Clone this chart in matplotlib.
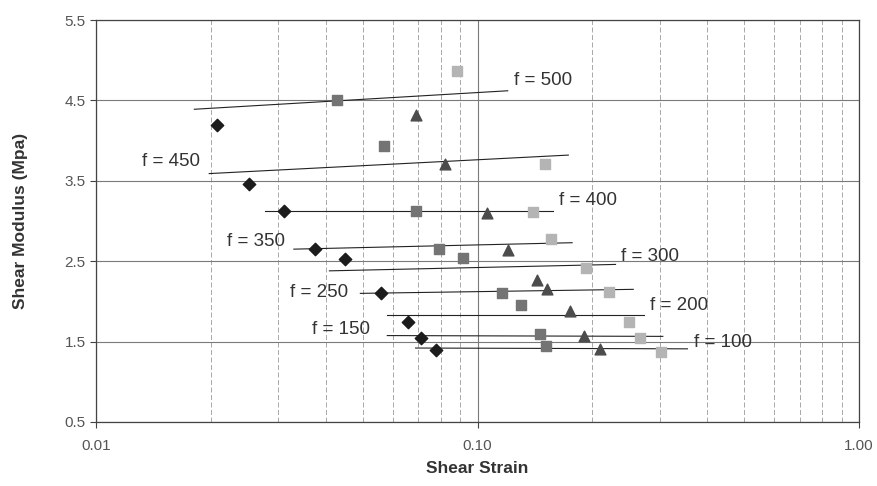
import matplotlib
matplotlib.use("Agg")
import matplotlib.pyplot as plt
from matplotlib.ticker import FixedLocator, NullFormatter, FixedFormatter
import numpy as np

plt.rcParams['font.family'] = ['Liberation Sans', 'DejaVu Sans']

# ---- data ----
freq_labels = ["f = 500", "f = 450", "f = 400", "f = 350", "f = 300",
               "f = 250", "f = 200", "f = 150", "f = 100"]

diamond_strain = [0.0208, 0.0252, 0.0311, 0.0376, 0.0450, 0.0560, 0.0659, 0.0713, 0.0780]
diamond_G      = [4.20, 3.46, 3.12, 2.65, 2.53, 2.10, 1.74, 1.54, 1.39]

dsq_strain = [0.0429, 0.0567, 0.0688, 0.0792, 0.0915, 0.116, 0.130, 0.146, 0.151]
dsq_G      = [4.50, 3.93, 3.12, 2.65, 2.54, 2.10, 1.95, 1.60, 1.44]

tri_strain = [0.0688, 0.0821, 0.106, 0.120, 0.143, 0.152, 0.175, 0.190, 0.210]
tri_G      = [4.32, 3.71, 3.10, 2.64, 2.27, 2.16, 1.88, 1.57, 1.41]

lsq_strain = [0.0881, 0.150, 0.140, 0.156, 0.193, 0.221, 0.249, 0.266, 0.303]
lsq_G      = [4.86, 3.71, 3.11, 2.77, 2.42, 2.12, 1.74, 1.54, 1.37]

# trend lines per frequency (start/end strain, start/end modulus)
line_x0 = [0.0181, 0.0198, 0.0278, 0.0330, 0.0409, 0.0493, 0.0580, 0.0580, 0.0688]
line_x1 = [0.120, 0.173, 0.158, 0.177, 0.230, 0.256, 0.273, 0.306, 0.355]
line_y0 = [4.39, 3.59, 3.12, 2.65, 2.38, 2.10, 1.835, 1.575, 1.42]
line_y1 = [4.62, 3.82, 3.12, 2.73, 2.46, 2.15, 1.835, 1.565, 1.41]

# label anchors (left edge, vertical centre) in data units
label_x = [0.125, 0.01318, 0.1635, 0.0220, 0.2383, 0.0322, 0.2833, 0.0368, 0.370]
label_y = [4.75, 3.735, 3.258, 2.739, 2.553, 2.116, 1.951, 1.652, 1.486]

x_ticks = [0.01, 0.1, 1.0]
x_tick_labels = ["0.01", "0.10", "1.00"]
y_ticks = [0.5, 1.5, 2.5, 3.5, 4.5, 5.5]

# ---- figure ----
fig = plt.figure(figsize=(8.77, 4.86), dpi=100)
ax = fig.add_axes([0.1095, 0.1317, 0.87, 0.8271])
ax.set_xscale('log')
ax.set_xlim(0.01, 1.0)
ax.set_ylim(0.5, 5.5)

# grid
ax.xaxis.set_major_locator(FixedLocator(x_ticks))
ax.xaxis.set_major_formatter(FixedFormatter(x_tick_labels))
minors = [m * d for d in (0.01, 0.1) for m in range(2, 10)]
ax.xaxis.set_minor_locator(FixedLocator(minors))
ax.xaxis.set_minor_formatter(NullFormatter())
ax.set_yticks(y_ticks)
ax.set_yticklabels([f"{v:.1f}" for v in y_ticks])

ax.grid(True, which='major', axis='both', color='#7a7a7a', lw=0.8, ls='-')
ax.grid(True, which='minor', axis='x', color='#9a9a9a', lw=0.6, ls=(0, (6, 3)))
ax.set_axisbelow(True)

for s in ax.spines.values():
    s.set_color('#444444')
    s.set_linewidth(0.9)

ax.tick_params(axis='both', which='major', direction='out', length=4,
               color='#444444', labelsize=11, labelcolor='#555555')
ax.tick_params(axis='x', which='minor', length=0)
ax.tick_params(axis='x', pad=8)

# trend lines
for x0, x1, y0, y1 in zip(line_x0, line_x1, line_y0, line_y1):
    ax.plot([x0, x1], [y0, y1], color='#222222', lw=0.8, zorder=2)

# markers
ax.scatter(diamond_strain, diamond_G, marker='D', s=40, color='#1c1c1c', zorder=4)
ax.scatter(dsq_strain, dsq_G, marker='s', s=55, color='#747474', zorder=4)
ax.scatter(tri_strain, tri_G, marker='^', s=60, color='#4c4c4c', zorder=4)
ax.scatter(lsq_strain, lsq_G, marker='s', s=55, color='#b4b4b4', zorder=4)

# labels
for txt, lx, ly in zip(freq_labels, label_x, label_y):
    ax.text(lx, ly, txt, ha='left', va='center', fontsize=13.5,
            color='#333333', zorder=5)

ax.set_xlabel("Shear Strain", fontsize=12.5, fontweight='bold', color='#333333',
              labelpad=6)
ax.set_ylabel("Shear Modulus (Mpa)", fontsize=12.5, fontweight='bold',
              color='#333333', labelpad=26)

fig.savefig("out.png", dpi=100)
